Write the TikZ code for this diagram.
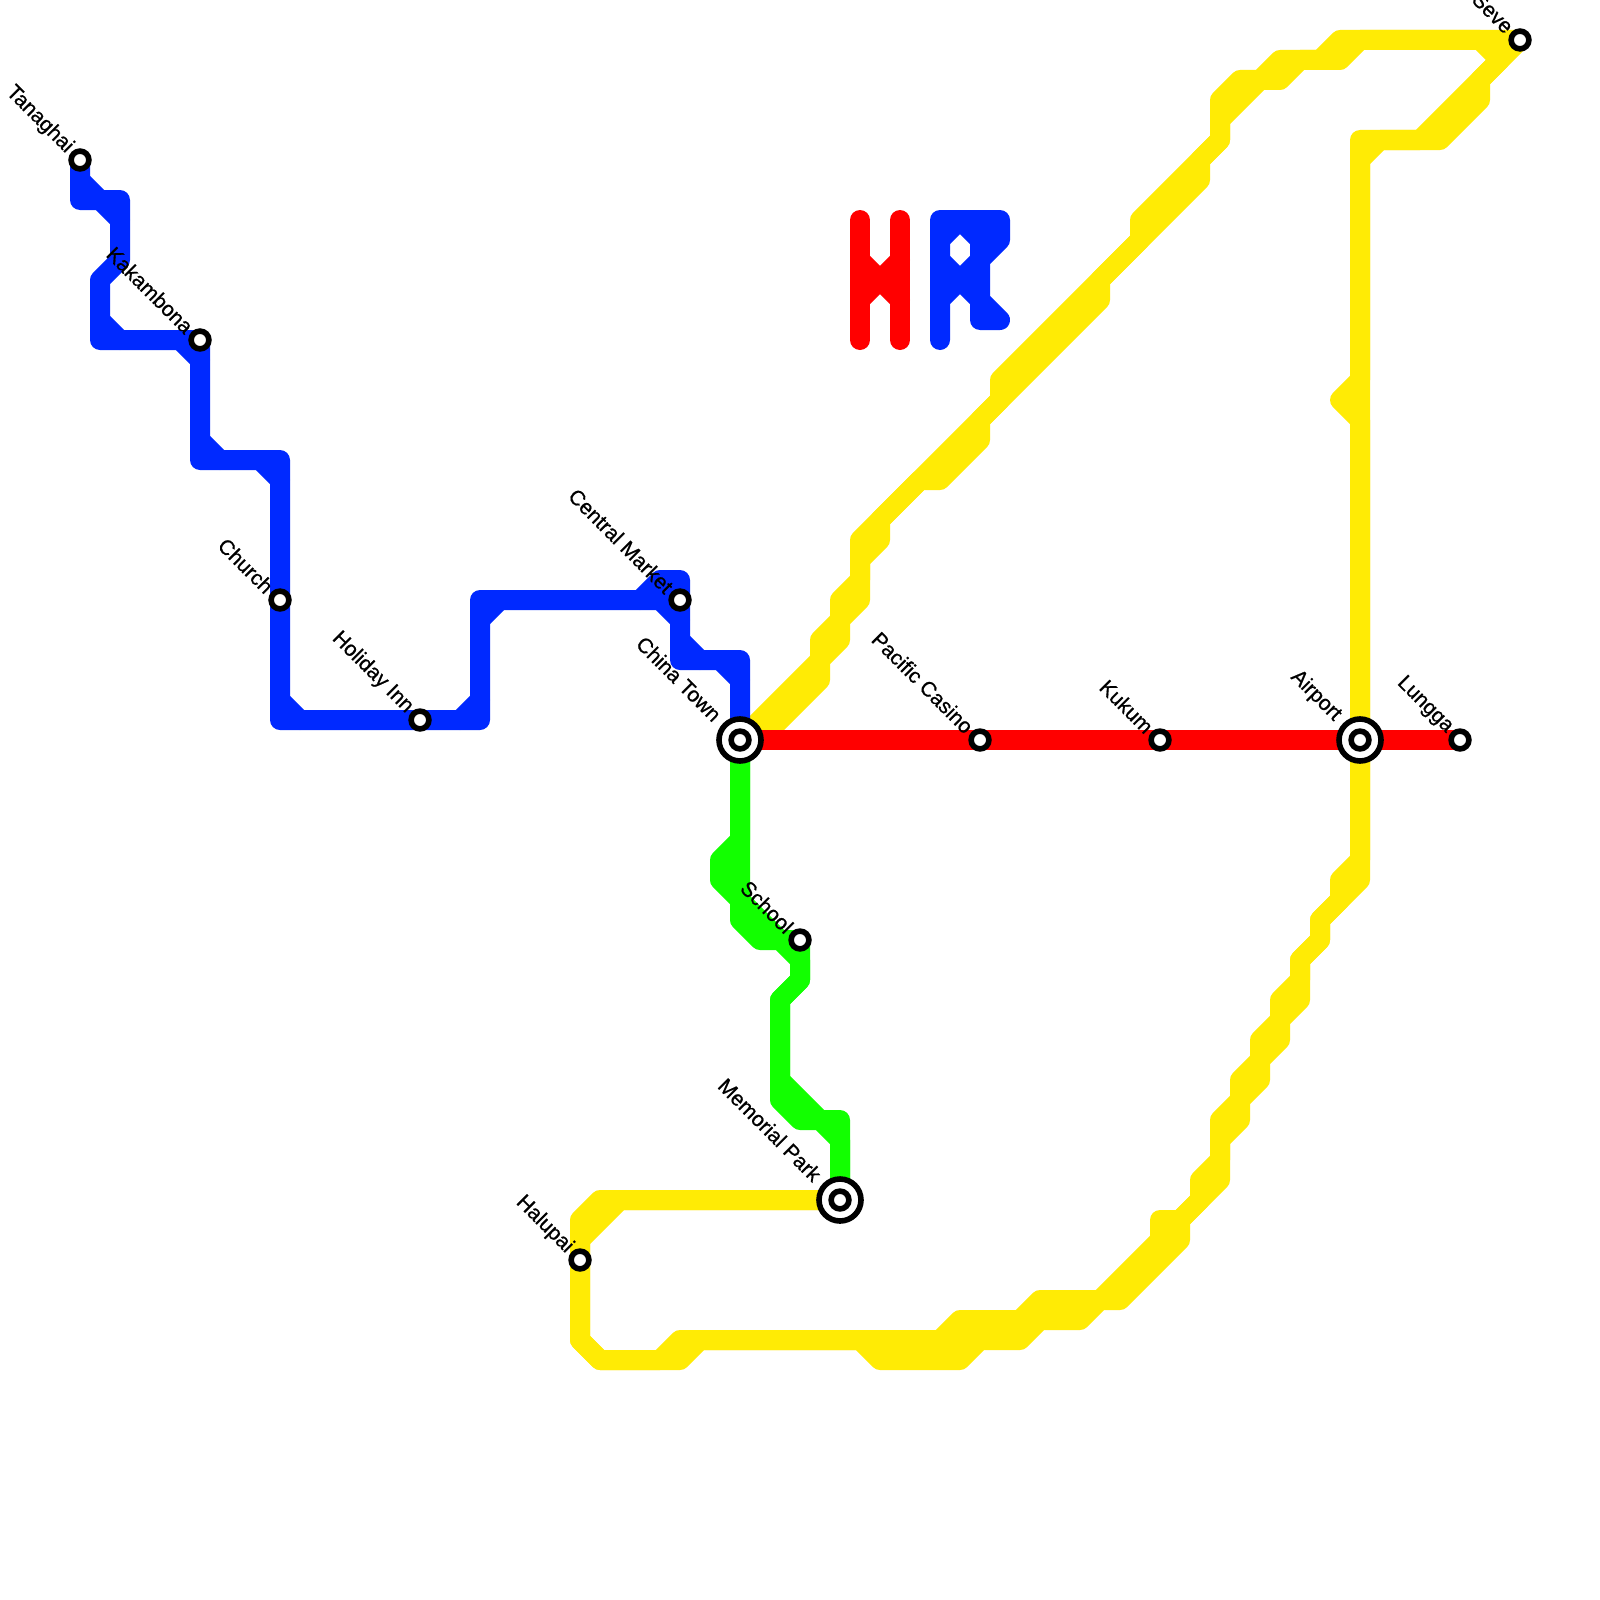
\documentclass[tikz,border=0pt]{standalone}
\usepackage{fontspec}
\setmainfont{Liberation Sans}
\newfontfamily\labfont[FakeBold=0.7]{Liberation Sans}
\usetikzlibrary{backgrounds}
\definecolor{lnblue}{HTML}{0029FF}
\definecolor{lngreen}{HTML}{12FF00}
\definecolor{lnyellow}{HTML}{FFEB05}
\definecolor{lnred}{HTML}{FF0000}
\tikzset{
  x=0.5pt,y=-0.5pt,
  metro/.style={line width=10pt,line cap=round,line join=round},
  blueln/.style={metro,draw=lnblue},
  greenln/.style={metro,draw=lngreen},
  yellowln/.style={metro,draw=lnyellow},
  redln/.style={metro,draw=lnred},
  stn/.style={circle,draw=black,fill=white,line width=2.8pt,minimum size=8.9pt,inner sep=0pt,outer sep=0pt},
  hub/.style={circle,draw=black,fill=white,line width=2.8pt,minimum size=21pt,inner sep=0pt,outer sep=0pt},
  lab/.style={anchor=east,rotate=-45,inner sep=0pt,text=black,font=\labfont\fontsize{10.5pt}{12pt}\selectfont},
}
\begin{document}
\begin{tikzpicture}
\useasboundingbox (0,0) rectangle (1600,1600);
% stations
\node[stn] (tan) at (80,160) {};
\node[stn] (kak) at (200,340) {};
\node[stn] (chu) at (280,600) {};
\node[stn] (hol) at (420,720) {};
\node[stn] (cen) at (680,600) {};
\node[hub] (chiO) at (740,740) {};
\node[stn] (chi) at (740,740) {};
\node[stn] (pac) at (980,740) {};
\node[stn] (kuk) at (1160,740) {};
\node[hub] (airO) at (1360,740) {};
\node[stn] (air) at (1360,740) {};
\node[stn] (lun) at (1460,740) {};
\node[stn] (sev) at (1520,40) {};
\node[stn] (sch) at (800,940) {};
\node[hub] (memO) at (840,1200) {};
\node[stn] (mem) at (840,1200) {};
\node[stn] (hal) at (580,1260) {};
% labels
\node[lab] (lTan) at ([shift={(-10,-10)}]tan.center) {Tanaghai};
\node[lab] (lKak) at ([shift={(-10,-10)}]kak.center) {Kakambona};
\node[lab] (lChu) at ([shift={(-10,-10)}]chu.center) {Church};
\node[lab] (lHol) at ([shift={(-10,-10)}]hol.center) {Holiday Inn};
\node[lab] (lCen) at ([shift={(-10,-10)}]cen.center) {Central Market};
\node[lab] (lChi) at ([shift={(-22,-22)}]chi.center) {China Town};
\node[lab] (lPac) at ([shift={(-10,-10)}]pac.center) {Pacific Casino};
\node[lab] (lKuk) at ([shift={(-10,-10)}]kuk.center) {Kukum};
\node[lab] (lAir) at ([shift={(-22,-22)}]air.center) {Airport};
\node[lab] (lLun) at ([shift={(-10,-10)}]lun.center) {Lungga};
\node[lab] (lSev) at ([shift={(-10,-10)}]sev.center) {Seve};
\node[lab] (lSch) at ([shift={(-10,-10)}]sch.center) {School};
\node[lab] (lMem) at ([shift={(-22,-22)}]mem.center) {Memorial Park};
\node[lab] (lHal) at ([shift={(-10,-10)}]hal.center) {Halupai};
\begin{scope}[on background layer]
\fill[white] (0,0) rectangle (1600,1600);
% yellow line, both edges of the ribbon
\fill[lnyellow] (860,1340) -- (940,1340) -- (960,1320) -- (1040,1320) -- (1020,1340) -- (980,1340) -- (960,1360) -- (880,1360) -- cycle;
\draw[yellowln] (chi.center) -- (820,660) -- (820,640) -- (840,620) -- (840,600) -- (860,580) -- (860,540) -- (1000,400) -- (1000,380) -- (1140,240) -- (1140,220) -- (1220,140) -- (1220,100) -- (1240,80) -- (1260,80) -- (1280,60) -- (1320,60) -- (1340,40) -- (sev.center) -- (1420,140) -- (1360,140) -- (1360,380) -- (1340,400) -- (1360,420) -- (air.center) -- (1360,860) -- (1340,880) -- (1340,900) -- (1320,920) -- (1320,940) -- (1300,960) -- (1300,980) -- (1280,1000) -- (1280,1020) -- (1260,1040) -- (1260,1060) -- (1240,1080) -- (1240,1100) -- (1220,1120) -- (1220,1160) -- (1200,1180) -- (1200,1200) -- (1180,1220) -- (1160,1220) -- (1160,1240) -- (1100,1300) -- (1040,1300) -- (1020,1320) -- (960,1320) -- (940,1340) -- (680,1340) -- (660,1360) -- (600,1360) -- (580,1340) -- (hal.center) -- (580,1220) -- (600,1200) -- (mem.center);
\draw[yellowln] (760,740) -- (820,680) -- (820,660) -- (840,640) -- (840,620) -- (860,600) -- (860,560) -- (880,540) -- (880,520) -- (920,480) -- (940,480) -- (980,440) -- (980,420) -- (1100,300) -- (1100,280) -- (1200,180) -- (1200,160) -- (1220,140) -- (1220,120) -- (1260,80) -- (1280,80) -- (1300,60) -- (1340,60) -- (1360,40) -- (1480,40) -- (1500,60) -- (1480,80) -- (1480,100) -- (1440,140) -- (1380,140) -- (1360,160) -- (1360,880) -- (1320,920) -- (1320,940) -- (1300,960) -- (1300,1000) -- (1280,1020) -- (1280,1040) -- (1260,1060) -- (1260,1080) -- (1240,1100) -- (1240,1120) -- (1220,1140) -- (1220,1180) -- (1180,1220) -- (1180,1240) -- (1120,1300) -- (1100,1300) -- (1080,1320) -- (1040,1320) -- (1020,1340) -- (980,1340) -- (960,1360) -- (880,1360) -- (860,1340) -- (700,1340) -- (680,1360) -- (660,1360) -- (600,1360) -- (580,1340) -- (580,1240) -- (620,1200) -- (mem.center);
% green line
\draw[greenln] (chi.center) -- (740,840) -- (720,860) -- (720,880) -- (740,900) -- (740,920) -- (760,940) -- (780,940) -- (800,960) -- (800,980) -- (780,1000) -- (780,1100) -- (800,1120) -- (820,1120) -- (840,1140) -- (mem.center);
\draw[greenln] (chi.center) -- (740,900) -- (780,940) -- (sch.center) -- (800,980) -- (780,1000) -- (780,1080) -- (820,1120) -- (840,1120) -- (mem.center);
% blue line
\draw[blueln] (tan.center) -- (80,200) -- (120,200) -- (120,260) -- (100,280) -- (100,340) -- (kak.center) -- (200,460) -- (280,460) -- (chu.center) -- (280,720) -- (hol.center) -- (480,720) -- (480,600) -- (cen.center) -- (680,660) -- (740,660) -- (chi.center);
\draw[blueln] (640,600) -- (660,580) -- (680,580) -- (cen.center);
\draw[blueln] (80,180) -- (100,200) -- (120,220);
\draw[blueln] (100,320) -- (120,340);
\draw[blueln] (180,340) -- (200,360);
\draw[blueln] (200,440) -- (220,460);
\draw[blueln] (260,460) -- (280,480);
\draw[blueln] (280,700) -- (300,720);
\draw[blueln] (460,720) -- (480,700);
\draw[blueln] (480,620) -- (500,600);
\draw[blueln] (660,600) -- (680,620);
\draw[blueln] (680,640) -- (700,660);
\draw[blueln] (720,660) -- (740,680);
% red line
\draw[redln] (chi.center) -- (pac.center) -- (kuk.center) -- (air.center) -- (lun.center);
% H
\draw[redln] (860,220) -- (860,340);
\draw[redln] (900,220) -- (900,340);
\draw[redln] (860,260) -- (880,280) -- (900,260);
\draw[redln] (860,300) -- (880,280) -- (900,300);
% R
\fill[lnblue] (960,220) -- (1000,220) -- (1000,240) -- (980,260) -- (980,240) -- cycle;
\draw[blueln] (940,340) -- (940,220) -- (1000,220) -- (1000,240) -- (980,260) -- (980,320) -- (1000,320) -- (980,300) -- (960,280) -- (940,300);
\draw[blueln] (940,240) -- (960,220) -- (980,240) -- (980,260) -- (960,280) -- (940,260);
\end{scope}
\end{tikzpicture}
\end{document}
